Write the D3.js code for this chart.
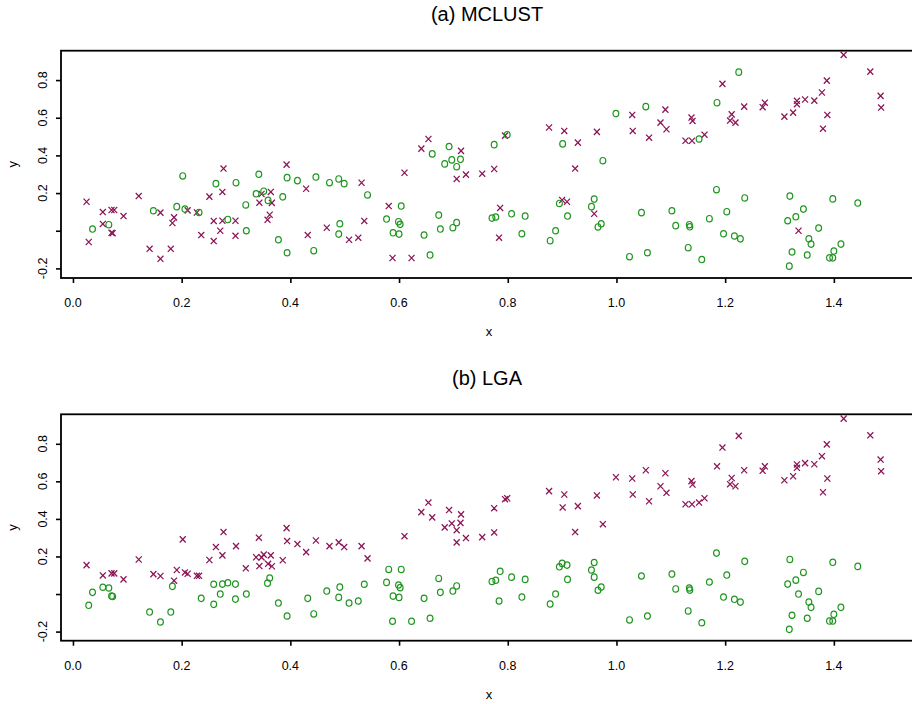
<!DOCTYPE html>
<html>
<head>
<meta charset="utf-8">
<script src="https://cdn.jsdelivr.net/npm/d3@7"></script>
<style>
  html, body { margin: 0; padding: 0; background: #ffffff; }
  svg { display: block; font-family: "Liberation Sans", Arial, Helvetica, sans-serif; }
</style>
</head>
<body>
<svg id="chart" width="912" height="704"></svg>
<script>
// Observations: x coordinate, y coordinate
const xVals = [
  0.025, 0.055, 0.071, 0.076, 0.093, 0.121, 0.148, 0.161, 0.186, 0.191,
  0.202, 0.206, 0.211, 0.228, 0.232, 0.251, 0.263, 0.277, 0.275, 0.300,
  0.318, 0.342, 0.337, 0.343, 0.351, 0.347, 0.364, 0.359, 0.366, 0.386,
  0.393, 0.394, 0.413, 0.429, 0.447, 0.472, 0.489, 0.499, 0.531, 0.542,
  0.610, 0.641, 0.654, 0.661, 0.684, 0.692, 0.697, 0.706, 0.706, 0.714,
  0.713, 0.723, 0.753, 0.775, 0.775, 0.795, 0.799, 0.876, 0.904, 0.901,
  0.929, 0.924, 0.964, 0.975, 0.999, 1.029, 1.030, 1.054, 1.060, 1.081,
  1.090, 1.092, 1.127, 1.138, 1.140, 1.139, 1.152, 1.162, 1.185, 1.195,
  1.225, 1.212, 1.209, 1.219, 1.235, 1.269, 1.273, 1.309, 1.325, 1.332,
  1.332, 1.347, 1.364, 1.378, 1.387, 1.388, 1.380, 1.418, 1.467, 1.486,
  1.487,
  0.029, 0.036, 0.055, 0.066, 0.071, 0.073, 0.141, 0.161, 0.180, 0.183,
  0.236, 0.259, 0.259, 0.271, 0.275, 0.285, 0.299, 0.299, 0.319, 0.358,
  0.362, 0.378, 0.394, 0.432, 0.443, 0.467, 0.491, 0.489, 0.508, 0.525,
  0.536, 0.581, 0.604, 0.577, 0.599, 0.602, 0.589, 0.600, 0.588, 0.623,
  0.657, 0.646, 0.673, 0.676, 0.699, 0.706, 0.771, 0.778, 0.784, 0.786,
  0.807, 0.832, 0.826, 0.878, 0.888, 0.895, 0.900, 0.909, 0.910, 0.954,
  0.959, 0.959, 0.966, 0.972, 1.024, 1.057, 1.046, 1.102, 1.109, 1.134,
  1.135, 1.132, 1.157, 1.171, 1.184, 1.203, 1.197, 1.217, 1.228, 1.236,
  1.319, 1.344, 1.330, 1.315, 1.335, 1.372, 1.354, 1.358, 1.323, 1.351,
  1.318, 1.392, 1.398, 1.400, 1.413, 1.398, 1.444
];

const yVals = [
  0.154, 0.099, 0.110, 0.110, 0.078, 0.184, 0.106, 0.096, 0.071, 0.128,
  0.291, 0.115, 0.108, 0.097, 0.097, 0.181, 0.250, 0.330, 0.206, 0.255,
  0.137, 0.300, 0.196, 0.149, 0.210, 0.195, 0.206, 0.161, 0.148, 0.180,
  0.351, 0.282, 0.266, 0.223, 0.285, 0.255, 0.275, 0.250, 0.255, 0.190,
  0.308, 0.436, 0.487, 0.408, 0.355, 0.447, 0.376, 0.340, 0.275, 0.424,
  0.379, 0.298, 0.303, 0.457, 0.328, 0.505, 0.510, 0.548, 0.530, 0.461,
  0.468, 0.330, 0.525, 0.372, 0.622, 0.615, 0.530, 0.659, 0.494, 0.574,
  0.643, 0.539, 0.478, 0.601, 0.583, 0.478, 0.487, 0.510, 0.680, 0.780,
  0.842, 0.618, 0.585, 0.574, 0.659, 0.656, 0.680, 0.606, 0.627, 0.690,
  0.672, 0.697, 0.691, 0.734, 0.797, 0.615, 0.542, 0.934, 0.845, 0.716,
  0.654,
  -0.060, 0.009, 0.036, 0.032, -0.011, -0.013, -0.096, -0.149, -0.096, 0.041,
  -0.023, -0.055, 0.052, 0.000, 0.053, 0.060, 0.053, -0.027, 0.000, 0.058,
  0.085, -0.048, -0.117, -0.023, -0.106, 0.016, 0.037, -0.018, -0.048, -0.037,
  0.052, 0.131, 0.131, 0.062, 0.048, 0.034, -0.011, -0.018, -0.145, -0.145,
  -0.129, -0.023, 0.083, 0.009, 0.016, 0.043, 0.067, 0.073, -0.037, 0.121,
  0.090, 0.078, -0.016, -0.053, 0.000, 0.145, 0.163, 0.154, 0.078, 0.128,
  0.168, 0.090, 0.020, 0.037, -0.138, -0.117, 0.096, 0.106, 0.027, 0.032,
  0.021, -0.090, -0.153, 0.064, 0.218, 0.101, -0.016, -0.028, -0.043, 0.174,
  0.184, 0.115, 0.074, 0.053, 0.000, 0.014, -0.043, -0.071, -0.113, -0.129,
  -0.188, -0.144, -0.144, -0.108, -0.071, 0.169, 0.147
];

// Cluster labels from MCLUST (1 = upper cluster, 2 = lower cluster)
const mclustClass = [
  1, 1, 1, 1, 1, 1, 2, 1, 1, 2,
  2, 2, 1, 1, 2, 1, 2, 1, 1, 2,
  2, 2, 2, 1, 2, 1, 1, 2, 1, 2,
  1, 2, 2, 1, 2, 2, 2, 2, 1, 2,
  1, 1, 1, 2, 2, 2, 2, 2, 1, 1,
  2, 1, 1, 2, 1, 1, 2, 1, 1, 2,
  1, 1, 1, 2, 2, 1, 1, 2, 1, 1,
  1, 1, 1, 1, 1, 1, 2, 1, 2, 1,
  2, 1, 1, 1, 1, 1, 1, 1, 1, 1,
  1, 1, 1, 1, 1, 1, 1, 1, 1, 1,
  1,
  1, 2, 1, 2, 1, 1, 1, 1, 1, 1,
  1, 1, 1, 1, 1, 2, 1, 1, 2, 1,
  1, 2, 2, 1, 2, 1, 2, 2, 1, 1,
  1, 1, 2, 2, 2, 2, 2, 2, 1, 1,
  2, 2, 2, 2, 2, 2, 2, 2, 1, 1,
  2, 2, 2, 2, 2, 2, 1, 1, 2, 2,
  2, 1, 2, 2, 2, 2, 2, 2, 2, 2,
  2, 2, 2, 2, 2, 2, 2, 2, 2, 2,
  2, 2, 2, 2, 1, 2, 2, 2, 2, 2,
  2, 2, 2, 2, 2, 2, 2
];

// Cluster labels from LGA (1 = upper line, 2 = lower line)
const lgaClass = xVals.map((_, i) => (i < 101 ? 1 : 2));

const xTicks = [0.0, 0.2, 0.4, 0.6, 0.8, 1.0, 1.2, 1.4];
const yTicks = [-0.2, 0.0, 0.2, 0.4, 0.6, 0.8];
const yTickLabels = ["-0.2", "", "0.2", "0.4", "0.6", "0.8"];
const panelTitles = ["(a) MCLUST", "(b) LGA"];

const clusterColor = { 1: "#8b1456", 2: "#1f951f" };

const svg = d3.select("#chart");
svg.append("rect").attr("width", 912).attr("height", 704).attr("fill", "#ffffff");

const left = 61, right = 913;
const x = d3.scaleLinear().domain([-0.022, 1.5456]).range([left, right]);

const panels = [
  { title: panelTitles[0], cls: mclustClass, top: 50.7, bottom: 278,
    yDomain: [-0.251, 0.956], titleY: 21, tickY: 306.5, xlabY: 336 },
  { title: panelTitles[1], cls: lgaClass, top: 414.3, bottom: 640.7,
    yDomain: [-0.2485, 0.957], titleY: 385, tickY: 669.5, xlabY: 699 }
];

// plotting symbols: a small cross for cluster 1, a small ring for cluster 2
const crossPath = "M-3,-3.1L3,3.1M-3,3.1L3,-3.1";

panels.forEach(p => {
  const y = d3.scaleLinear().domain(p.yDomain).range([p.bottom, p.top]);
  const g = svg.append("g");

  const pts = xVals.map((xv, i) => ({ x: xv, y: yVals[i], c: p.cls[i] }));

  g.selectAll("path.cross")
    .data(pts.filter(d => d.c === 1))
    .join("path")
    .attr("class", "cross")
    .attr("transform", d => `translate(${x(d.x)},${y(d.y)})`)
    .attr("d", crossPath)
    .attr("fill", "none")
    .attr("stroke", clusterColor[1])
    .attr("stroke-width", 1.25);

  g.selectAll("ellipse.ring")
    .data(pts.filter(d => d.c === 2))
    .join("ellipse")
    .attr("class", "ring")
    .attr("cx", d => x(d.x))
    .attr("cy", d => y(d.y))
    .attr("rx", 2.9)
    .attr("ry", 3.2)
    .attr("fill", "none")
    .attr("stroke", clusterColor[2])
    .attr("stroke-width", 1.2);

  // bottom axis
  const xAxis = d3.axisBottom(x).tickValues(xTicks).tickSize(5).tickFormat("");
  const xg = g.append("g").attr("transform", `translate(0,${p.bottom})`).call(xAxis);
  xg.select(".domain").remove();
  xg.selectAll(".tick line").attr("stroke", "#000").attr("stroke-width", 1.6);
  g.selectAll("text.xtl")
    .data(xTicks)
    .join("text")
    .attr("class", "xtl")
    .attr("x", d => x(d))
    .attr("y", p.tickY)
    .attr("text-anchor", "middle")
    .attr("font-size", 12.5)
    .attr("fill", "#000")
    .text(d => d3.format(".1f")(d));

  // left axis
  const yAxis = d3.axisLeft(y).tickValues(yTicks).tickSize(5).tickFormat("");
  const yg = g.append("g").attr("transform", `translate(${left},0)`).call(yAxis);
  yg.select(".domain").remove();
  yg.selectAll(".tick line").attr("stroke", "#000").attr("stroke-width", 1.6);
  g.selectAll("text.ytl")
    .data(yTicks.map((v, i) => ({ v, label: yTickLabels[i] })))
    .join("text")
    .attr("class", "ytl")
    .attr("transform", d => `translate(46.5,${y(d.v)}) rotate(-90)`)
    .attr("text-anchor", "middle")
    .attr("font-size", 12.5)
    .attr("fill", "#000")
    .text(d => d.label);

  // frame
  g.append("rect")
    .attr("x", left).attr("y", p.top)
    .attr("width", right - left).attr("height", p.bottom - p.top)
    .attr("fill", "none").attr("stroke", "#000").attr("stroke-width", 1.8);

  // axis titles
  g.append("text")
    .attr("x", (left + right) / 2 + 2).attr("y", p.xlabY)
    .attr("text-anchor", "middle").attr("font-size", 13).attr("fill", "#000")
    .text("x");
  g.append("text")
    .attr("transform", `translate(16.5,${(p.top + p.bottom) / 2}) rotate(-90)`)
    .attr("text-anchor", "middle").attr("font-size", 13).attr("fill", "#000")
    .text("y");

  // panel title
  g.append("text")
    .attr("x", (left + right) / 2).attr("y", p.titleY)
    .attr("text-anchor", "middle").attr("font-size", 20).attr("fill", "#000")
    .text(p.title);
});
</script>
</body>
</html>
